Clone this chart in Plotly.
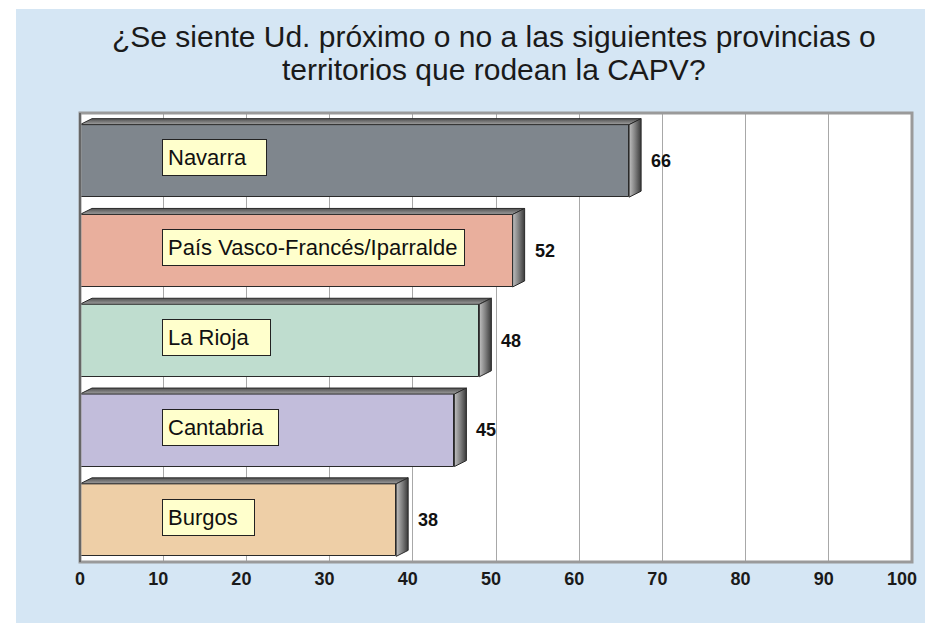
import plotly.graph_objects as go

# ---- data ----
categories = ["Navarra", "País Vasco-Francés/Iparralde", "La Rioja", "Cantabria", "Burgos"]
values = [66, 52, 48, 45, 38]
x_ticks = [0, 10, 20, 30, 40, 50, 60, 70, 80, 90, 100]
title_lines = ["¿Se siente Ud. próximo o no a las siguientes provincias o",
               "territorios que rodean la CAPV?"]

# ---- style ----
bar_colors = ["#7F868D", "#E9AF9D", "#BFDDCF", "#C2BDDB", "#EECFA7"]
label_box_px = [107, 305, 111, 119, 95]
BG = "#D5E6F4"
FONT = "Liberation Sans, Arial"
W, H = 925, 623
ML, MR, MT, MB = 80, 13, 113, 61
PW = W - ML - MR
PH = H - MT - MB
xr = (0, 100)
n = len(categories)
px_x = PW / (xr[1] - xr[0])        # px per x unit
px_y = PH / n                      # px per band
DX = 12 / px_x                     # depth in x units
DY = 6 / px_y                      # depth in y units
FRONT_H = 72.5 / px_y
y_front_c = [i + 0.5 + DY / 2 for i in range(n)]

fig = go.Figure()

# front faces
fig.add_trace(go.Bar(
    x=values, y=y_front_c, orientation="h", width=FRONT_H, base=0,
    marker=dict(color=bar_colors, line=dict(color="#2a2a2a", width=1)),
    hoverinfo="skip", showlegend=False,
))

# 3D faces
for i, v in enumerate(values):
    yt = y_front_c[i] - FRONT_H / 2
    yb = y_front_c[i] + FRONT_H / 2
    fig.add_trace(go.Scatter(
        x=[0, DX, v + DX, v, 0], y=[yt, yt - DY, yt - DY, yt, yt],
        mode="lines", fill="toself",
        fillgradient=dict(type="vertical", colorscale=[[0, "#a0a0a0"], [1, "#505050"]]),
        line=dict(color="#2a2a2a", width=1), hoverinfo="skip", showlegend=False,
    ))
    fig.add_trace(go.Scatter(
        x=[v, v + DX, v + DX, v, v], y=[yt, yt - DY, yb - DY, yb, yt],
        mode="lines", fill="toself",
        fillgradient=dict(type="horizontal", colorscale=[[0, "#c0c0c0"], [0.5, "#808080"], [1, "#3a3a3a"]]),
        line=dict(color="#2a2a2a", width=1), hoverinfo="skip", showlegend=False,
    ))

annotations = []
for i, (c, v) in enumerate(zip(categories, values)):
    annotations.append(dict(
        x=(161.5 - ML) / px_x, y=i + 0.5, xref="x", yref="y",
        text=c, showarrow=False, xanchor="left", yanchor="middle",
        align="left", width=label_box_px[i] - 14,
        bgcolor="#FFFFCC", bordercolor="#222", borderwidth=1, borderpad=5,
        font=dict(family=FONT, size=22, color="#111"),
    ))
    annotations.append(dict(
        x=v, y=i + 0.5, xref="x", yref="y", xshift=20, yshift=-3,
        text=f"<b>{v}</b>", showarrow=False, xanchor="left", yanchor="middle",
        font=dict(family=FONT, size=18, color="#111"),
    ))

for k, (line, ypx) in enumerate(zip(title_lines, [37, 70])):
    annotations.append(dict(
        x=(494 - ML) / PW, y=1 + (MT - ypx) / PH, xref="paper", yref="paper",
        text=line, showarrow=False, xanchor="center", yanchor="middle",
        font=dict(family=FONT, size=30, color="#1a1a1a"),
    ))

shapes = [
    dict(type="rect", xref="paper", yref="paper", layer="below",
         x0=-ML / PW, x1=(16 - ML) / PW, y0=-MB / PH, y1=1 + MT / PH,
         fillcolor="white", line=dict(width=0)),
    dict(type="rect", xref="paper", yref="paper", layer="below",
         x0=-ML / PW, x1=1 + MR / PW, y0=1 + (MT - 9) / PH, y1=1 + MT / PH,
         fillcolor="white", line=dict(width=0)),
    dict(type="rect", xref="paper", yref="paper", x0=0, x1=1, y0=0, y1=1,
         line=dict(color="#9a9a9a", width=3), layer="above"),
    dict(type="line", xref="paper", yref="paper", x0=0, x1=0, y0=0, y1=1,
         line=dict(color="#555555", width=1.5), layer="above"),
]

fig.update_layout(
    width=W, height=H,
    margin=dict(l=ML, r=MR, t=MT, b=MB, autoexpand=False),
    paper_bgcolor=BG, plot_bgcolor="white",
    xaxis=dict(range=list(xr), tickvals=x_ticks, ticktext=[str(t) for t in x_ticks],
               showgrid=True, gridcolor="#a8a8a8", gridwidth=1, zeroline=False,
               showline=False, ticks="", ticklabelstandoff=4, automargin=False,
               ticklabelposition="outside left", ticklabelshift=5,
               tickfont=dict(family=FONT, size=18, color="#1a1a1a", weight="bold")),
    yaxis=dict(range=[n, 0], showticklabels=False, showgrid=False, zeroline=False,
               ticks="", automargin=False),
    annotations=annotations, shapes=shapes, bargap=0,
)

fig.write_html("out.html", config={"displayModeBar": False, "responsive": False},
               post_script="document.body.style.margin='0';document.body.style.padding='0';"
                           "document.body.style.overflow='hidden';")
